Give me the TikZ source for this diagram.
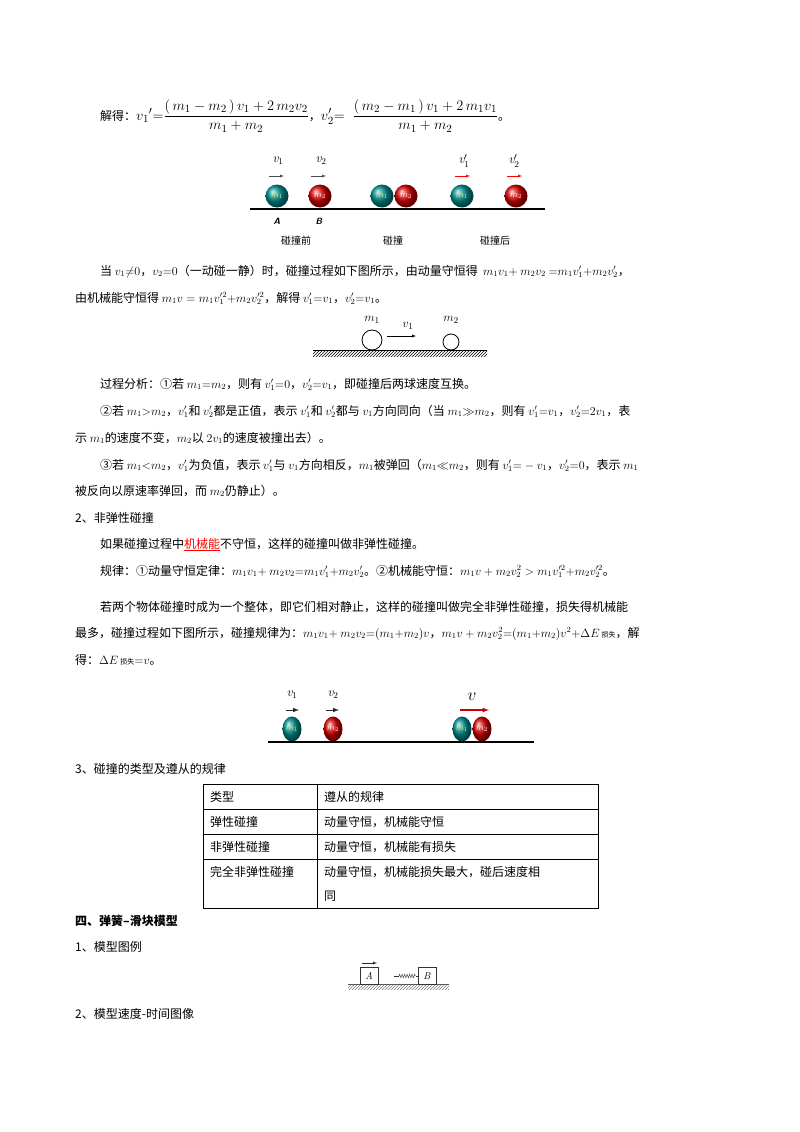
\documentclass[tikz,border=0pt]{standalone}
\usepackage{fontspec}
\usepackage{amsmath}
\newfontfamily\cjk{Noto Sans CJK SC}
\usetikzlibrary{patterns,decorations.pathmorphing,shapes.geometric}
\begin{document}
\begin{tikzpicture}[x=1pt,y=-1pt,
  t/.style={anchor=base west,inner sep=0pt,font=\cjk\fontsize{12}{14}\selectfont},
  ballA/.style={circle,minimum size=23pt,inner sep=0pt,ball color=cyan!40!teal!80!black,font=\itshape\fontsize{9}{9}\selectfont,text=yellow!80!green!60!white},
  ballB/.style={circle,minimum size=23pt,inner sep=0pt,ball color=red!85!black,font=\itshape\fontsize{9}{9}\selectfont,text=white},
  lab/.style={inner sep=0pt,font=\fontsize{13}{13}\selectfont}]
\useasboundingbox (0,0) rectangle (800,1132);
\fill[white] (0,0) rectangle (800,1132);
% solution
\node[t] (s0) at (100,120) {解得：{\fontsize{15}{18}\selectfont$v_1{}'{=}\dfrac{(\,m_1-m_2\,)\,v_1+2\,m_2v_2}{m_1+m_2}$}，{\fontsize{15}{18}\selectfont$v_2'{=}\;\;\dfrac{(\,m_2-m_1\,)\,v_1+2\,m_1v_1}{m_1+m_2}$}。};
% diagram 1
\draw[line width=1.2pt] (250,209) -- (545,209);
\node[ballA] (a1) at (277,196) {$m_1$};
\node[ballB] (b1) at (320,196) {$m_2$};
\node[ballA] (a2) at (382,196) {$m_1$};
\node[ballB] (b2) at (406,196) {$m_2$};
\node[ballA] (a3) at (462,196) {$m_1$};
\node[ballB] (b3) at (516,196) {$m_2$};
\node[lab] (l1) at (278,161) {$\mathit{v}_1$};
\node[lab] (l2) at (321,161) {$\mathit{v}_2$};
\node[lab] (l3) at (464,161) {$\mathit{v}_1'$};
\node[lab] (l4) at (514,161) {$\mathit{v}_2'$};
\draw[-latex,gray!60!black] (269,176) -- (284,176);
\draw[-latex,gray!60!black] (311,176) -- (326,176);
\draw[-latex,red] (455,176) -- (470,176);
\draw[-latex,red] (507,176) -- (522,176);
\node[font=\sffamily\bfseries\itshape\fontsize{9}{9}\selectfont] (A) at (277,221) {A};
\node[font=\sffamily\bfseries\itshape\fontsize{9}{9}\selectfont] (B) at (319,221) {B};
\node[font=\cjk\fontsize{10}{10}\selectfont] (c1) at (296,241) {碰撞前};
\node[font=\cjk\fontsize{10}{10}\selectfont] (c2) at (393,241) {碰撞};
\node[font=\cjk\fontsize{10}{10}\selectfont] (c3) at (495,241) {碰撞后};
% text
\node[t] (p1) at (100,275) {当 $v_1{\neq}0$，$v_2{=}0$（一动碰一静）时，碰撞过程如下图所示，由动量守恒得 \ $m_1v_1{+}\ m_2v_2\ {=}m_1v_1'{+}m_2v_2'$，};
\node[t] (p2) at (75,302) {由机械能守恒得 $m_1v=m_1v_1'^2{+}m_2v_2'^2$，解得 $v_1'{=}v_1$，$v_2'{=}v_1$。};
% diagram 2
\fill[pattern=north east lines] (313,350) rectangle (487,356);
\draw[line width=0.8pt] (313,350) -- (487,350);
\draw[line width=0.8pt] (372,340) circle (10);
\draw[line width=0.8pt] (451,342) circle (8);
\node[lab] (m1l) at (372,320) {$m_1$};
\node[lab] (v1l) at (408,326) {$v_1$};
\node[lab] (m2l) at (451,320) {$m_2$};
\draw[-latex] (387,336) -- (416,336);
% process analysis
\node[t] (q1) at (100,388) {过程分析：①若 $m_1{=}m_2$，则有 $v_1'{=}0$，$v_2'{=}v_1$，即碰撞后两球速度互换。};
\node[t] (q2) at (100,415) {②若 $m_1{>}m_2$，$v_1'$和 $v_2'$都是正值，表示 $v_1'$和 $v_2'$都与 $v_1$方向同向（当 $m_1{\gg}m_2$，则有 $v_1'{=}v_1$，$v_2'{=}2v_1$，表};
\node[t] (q3) at (75,442) {示 $m_1$的速度不变，$m_2$以 $2v_1$的速度被撞出去）。};
\node[t] (q4) at (100,469) {③若 $m_1{<}m_2$，$v_1'$为负值，表示 $v_1'$与 $v_1$方向相反，$m_1$被弹回（$m_1{\ll}m_2$，则有 $v_1'{=}-v_1$，$v_2'{=}0$，表示 $m_1$};
\node[t] (q5) at (75,495) {被反向以原速率弹回，而 $m_2$仍静止）。};
\node[t] (h2) at (75,522) {2、非弹性碰撞};
\node[t] (r1) at (100,548) {如果碰撞过程中\textcolor{red}{\underline{机械能}}不守恒，这样的碰撞叫做非弹性碰撞。};
\node[t] (r2) at (100,575) {规律：①动量守恒定律：$m_1v_1{+}\ m_2v_2{=}m_1v_1'{+}m_2v_2'$。②机械能守恒：$m_1v+m_2v_2^2>m_1v_1'^2{+}m_2v_2'^2$。};
\node[t] (r3) at (100,611) {若两个物体碰撞时成为一个整体，即它们相对静止，这样的碰撞叫做完全非弹性碰撞，损失得机械能};
\node[t] (r4) at (75,637) {最多，碰撞过程如下图所示，碰撞规律为：$m_1v_1{+}\ m_2v_2{=}(m_1{+}m_2)v$，$m_1v+m_2v_2^2{=}(m_1{+}m_2)v^2{+}\Delta E$\,{\fontsize{7}{7}\selectfont 损失}，解};
\node[t] (r5) at (75,664) {得：$\Delta E$\,{\fontsize{7}{7}\selectfont 损失}${=}v$。};
% diagram 3
\draw[line width=2pt] (268,742) -- (534,742);
\node[ballA,ellipse,minimum width=19pt,minimum height=25pt] (a4) at (292,729) {$m_1$};
\node[ballB,ellipse,minimum width=19pt,minimum height=25pt] (b4) at (333,729) {$m_2$};
\node[ballA,ellipse,minimum width=19pt,minimum height=25pt] (a5) at (462,729) {$m_1$};
\node[ballB,ellipse,minimum width=19pt,minimum height=25pt] (b5) at (482,729) {$m_2$};
\node[lab] (w1) at (292,695) {$\mathit{v}_1$};
\node[lab] (w2) at (333,695) {$\mathit{v}_2$};
\node[lab,font=\fontsize{18}{18}\selectfont] (w3) at (472,697) {$v$};
\draw[-latex,line width=1pt,gray!30!black] (286,710) -- (299,710);
\draw[-latex,line width=1pt,gray!30!black] (326,710) -- (339,710);
\draw[-latex,line width=1.2pt,red!80!black] (460,710) -- (489,710);
% table
\node[t] (h3) at (75,773) {3、碰撞的类型及遵从的规律};
\draw[line width=0.6pt] (203,784) rectangle (598,908);
\draw[line width=0.6pt] (203,809) -- (598,809) (203,834) -- (598,834) (203,859) -- (598,859) (317,784) -- (317,908);
\node[t] (k1) at (210,801) {类型};
\node[t] (k2) at (324,801) {遵从的规律};
\node[t] (k3) at (210,826) {弹性碰撞};
\node[t] (k4) at (324,826) {动量守恒，机械能守恒};
\node[t] (k5) at (210,851) {非弹性碰撞};
\node[t] (k6) at (324,851) {动量守恒，机械能有损失};
\node[t] (k7) at (210,876) {完全非弹性碰撞};
\node[t] (k8) at (324,876) {动量守恒，机械能损失最大，碰后速度相};
\node[t] (k9) at (324,900) {同};
\node[t,font=\cjk\bfseries\fontsize{12}{14}\selectfont] (h4) at (75,925) {四、弹簧–滑块模型};
\node[t] (h5) at (75,951) {1、模型图例};
% spring diagram
\fill[pattern=north east lines,pattern color=gray] (348,984) rectangle (449,989);
\draw[gray!70!black] (348,984) -- (449,984);
\draw[gray!40!black] (360,967) rectangle (378,984);
\node[inner sep=0pt,font=\itshape\fontsize{10}{10}\selectfont] (Ab) at (369,976) {A};
\draw[gray!40!black] (418,967) rectangle (436,984);
\node[inner sep=0pt,font=\itshape\fontsize{10}{10}\selectfont] (Bb) at (427,976) {B};
\draw[-latex,gray!30!black] (362,963) -- (377,963);
\draw[gray!40!black] (394,976) -- (399,976);
\draw[gray!40!black,decorate,decoration={zigzag,segment length=2.5pt,amplitude=1.8pt}] (399,976) -- (416,976);
\draw[gray!40!black] (416,976) -- (418,976);
\node[t] (h6) at (75,1018) {2、模型速度-时间图像};
\end{tikzpicture}
\end{document}
